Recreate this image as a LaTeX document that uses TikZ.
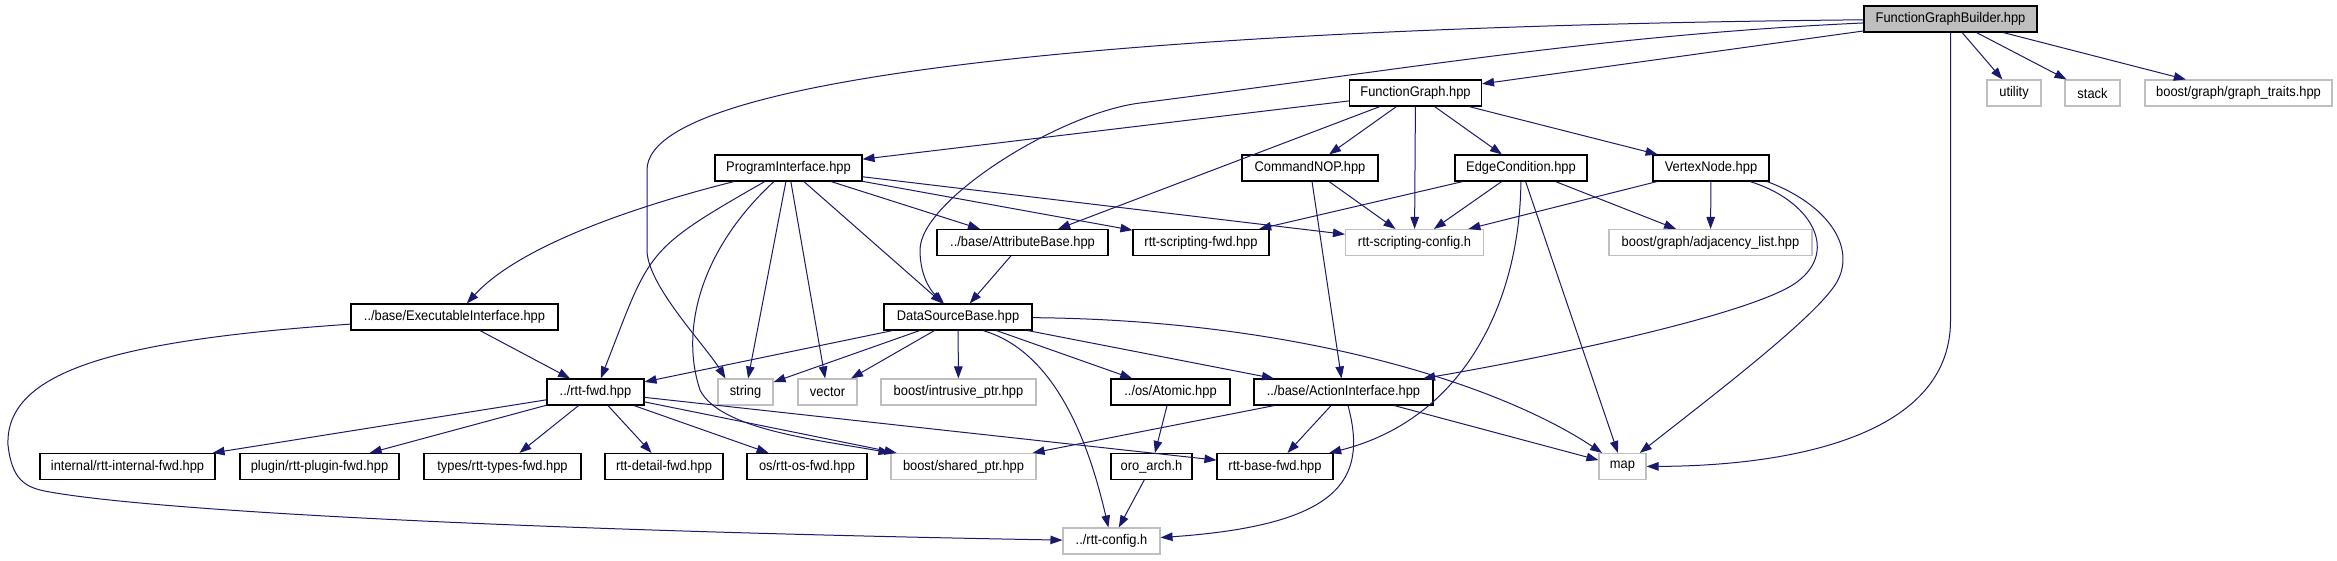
\documentclass[tikz,border=0pt]{standalone}
\usepackage{fontspec}
\setmainfont{Liberation Sans}[FakeStretch=0.92]
\usepackage{tikz}
\usetikzlibrary{arrows.meta}
\definecolor{incblue}{HTML}{191970}
\definecolor{extgray}{HTML}{BFBFBF}

\begin{document}
\begin{tikzpicture}[x=1pt,y=-1pt]

\tikzset{file/.style={draw=black, line width=1.1pt, fill=white, inner sep=0pt, minimum height=26pt, font=\fontsize{14}{16}\selectfont},
         extfile/.style={file, draw=extgray},
         rootfile/.style={file, fill=extgray},
         inc/.style={draw=incblue, line width=1pt, -{Triangle[length=12pt,width=8.5pt]}}}

\useasboundingbox (0,0) rectangle (2337,560);

\node[rootfile, minimum width=173] (fgb) at (1950.5,19) {FunctionGraphBuilder.hpp};
\node[file, minimum width=132] (fg) at (1415.5,93) {FunctionGraph.hpp};
\node[extfile, minimum width=54] (util) at (2014,93) {utility};
\node[extfile, minimum width=55] (stk) at (2092.5,93) {stack};
\node[extfile, minimum width=187] (gtr) at (2238.5,93) {boost/graph/graph\_traits.hpp};
\node[file, minimum width=147] (pi) at (788.5,168) {ProgramInterface.hpp};
\node[file, minimum width=136] (cnop) at (1310,168) {CommandNOP.hpp};
\node[file, minimum width=132] (edge) at (1521,168) {EdgeCondition.hpp};
\node[file, minimum width=116] (vtx) at (1711,168) {VertexNode.hpp};
\node[file, minimum width=171] (attr) at (1022.5,242.5) {../base/AttributeBase.hpp};
\node[file, minimum width=136] (sfwd) at (1201,242.5) {rtt-scripting-fwd.hpp};
\node[extfile, minimum width=138] (scfg) at (1414.5,242.5) {rtt-scripting-config.h};
\node[extfile, minimum width=203] (adj) at (1710.5,242.5) {boost/graph/adjacency\_list.hpp};
\node[file, minimum width=207] (exe) at (454.5,317) {../base/ExecutableInterface.hpp};
\node[file, minimum width=148] (dsb) at (958,317) {DataSourceBase.hpp};
\node[file, minimum width=97] (rfwd) at (595.5,392) {../rtt-fwd.hpp};
\node[extfile, minimum width=55] (str) at (745.5,392) {string};
\node[extfile, minimum width=59] (vec) at (827.5,392) {vector};
\node[extfile, minimum width=155] (iptr) at (958.5,392) {boost/intrusive\_ptr.hpp};
\node[file, minimum width=119] (atom) at (1170.5,392) {../os/Atomic.hpp};
\node[file, minimum width=179] (act) at (1343.5,392) {../base/ActionInterface.hpp};
\node[file, minimum width=175] (intl) at (127.5,466.5) {internal/rtt-internal-fwd.hpp};
\node[file, minimum width=159] (plug) at (319.5,466.5) {plugin/rtt-plugin-fwd.hpp};
\node[file, minimum width=157] (typ) at (502.5,466.5) {types/rtt-types-fwd.hpp};
\node[file, minimum width=118] (det) at (664,466.5) {rtt-detail-fwd.hpp};
\node[file, minimum width=120] (osf) at (807,466.5) {os/rtt-os-fwd.hpp};
\node[extfile, minimum width=145] (sptr) at (963.5,466.5) {boost/shared\_ptr.hpp};
\node[file, minimum width=81] (oro) at (1151.5,466.5) {oro\_arch.h};
\node[file, minimum width=116] (bfwd) at (1275,466.5) {rtt-base-fwd.hpp};
\node[extfile, minimum width=47] (map) at (1622.5,466.5) {map};
\node[extfile, minimum width=97] (cfg) at (1111.5,541) {../rtt-config.h};

\draw[inc] (fgb) -- (fg);
\draw[inc] (fgb) .. controls (1300,25) and (647,60) .. (647,170) -- (647,250) .. controls (647,285) and (705,345) .. ([xshift=8pt]str.north west);
\draw[inc] (fgb) .. controls (1600,35) and (1400,70) .. (1140,103) .. controls (1060,113) and (920,200) .. (920,250) .. controls (920,275) and (930,290) .. (dsb);
\draw[inc] (fgb.south) -- ++(0,288) .. controls (1950.5,440) and (1780,466) .. (map);
\draw[inc] (fgb) -- (util);
\draw[inc] (fgb) -- (stk);
\draw[inc] (fgb) -- (gtr);
\draw[inc] (fg) -- (pi);
\draw[inc] (fg) -- (attr);
\draw[inc] (fg) -- (cnop);
\draw[inc] (fg) -- (scfg);
\draw[inc] (fg) -- (edge);
\draw[inc] (fg) -- (vtx);
\draw[inc] (pi) .. controls (640,205) and (520,245) .. (exe);
\draw[inc] (pi) .. controls (643,251) and (651,250) .. (rfwd);
\draw[inc] (pi) .. controls (700,250) and (680,330) .. (700,390) .. controls (720,430) and (820,440) .. (sptr);
\draw[inc] (pi) -- (str);
\draw[inc] (pi) -- (vec);
\draw[inc] (pi) -- (dsb);
\draw[inc] (pi) -- (attr);
\draw[inc] (pi) -- (sfwd);
\draw[inc] (pi) -- (scfg);
\draw[inc] (cnop) -- (scfg);
\draw[inc] (cnop) -- (act);
\draw[inc] (edge) -- (sfwd);
\draw[inc] (edge) -- (scfg);
\draw[inc] (edge) -- (adj);
\draw[inc] (edge) -- (map);
\draw[inc] (edge) .. controls (1520,300) and (1465,419) .. (bfwd);
\draw[inc] (vtx) -- (scfg);
\draw[inc] (vtx) -- (adj);
\draw[inc] ([xshift=39pt]vtx.south) .. controls (1810,200) and (1840,250) .. (1797,282) .. controls (1754,314) and (1549,357) .. (act);
\draw[inc] ([xshift=56pt]vtx.south) .. controls (1830,205) and (1858,250) .. (1835,285) .. controls (1812,320) and (1711,397) .. (map);
\draw[inc] (attr) -- (dsb);
\draw[inc] (exe) -- (rfwd);
\draw[inc] (exe) .. controls (120,340) and (5,370) .. (8,445) .. controls (12,480) and (25,488) .. (50,492) .. controls (150,510) and (500,530) .. (cfg);
\draw[inc] (dsb) -- (rfwd);
\draw[inc] (dsb) -- (str);
\draw[inc] (dsb) -- (vec);
\draw[inc] (dsb) -- (iptr);
\draw[inc] ([xshift=25pt]dsb.south) .. controls (1050,350) and (1086,430) .. (cfg);
\draw[inc] (dsb) -- (atom);
\draw[inc] (dsb) -- (act);
\draw[inc] (dsb) .. controls (1300,320) and (1500,385) .. (map);
\draw[inc] (act) -- (sptr);
\draw[inc] (act) -- (bfwd);
\draw[inc] ([xshift=4.5pt]act.south) .. controls (1368,480) and (1340,525) .. (cfg);
\draw[inc] (act) -- (map);
\draw[inc] (rfwd) -- (intl);
\draw[inc] (rfwd) -- (plug);
\draw[inc] (rfwd) -- (typ);
\draw[inc] (rfwd) -- (det);
\draw[inc] (rfwd) -- (osf);
\draw[inc] (rfwd) -- (sptr);
\draw[inc] (rfwd) -- (bfwd);
\draw[inc] (atom) -- (oro);
\draw[inc] (oro) -- (cfg);

\end{tikzpicture}
\end{document}
